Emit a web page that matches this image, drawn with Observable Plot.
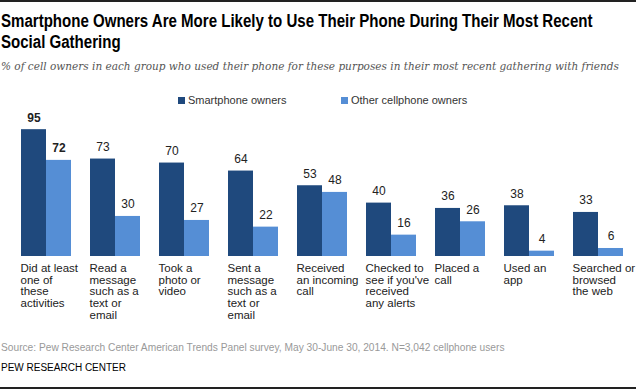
<!DOCTYPE html>
<html>
<head>
<meta charset="utf-8">
<script src="https://cdn.jsdelivr.net/npm/d3@7"></script>
<script src="https://cdn.jsdelivr.net/npm/@observablehq/plot@0.6"></script>
<style>
  html, body { margin: 0; padding: 0; background: #fff; }
  #wrap { position: relative; width: 636px; height: 390px; overflow: hidden; font-family: "Liberation Sans", Arial, sans-serif; }
  .topline { position: absolute; left: 0; top: 0; width: 636px; height: 2px; background: #222; }
  .botline { position: absolute; left: 0; top: 387px; width: 636px; height: 2px; background: #222; }
  .title { position: absolute; left: 1px; top: 11px; white-space: nowrap; font-family: "Liberation Sans", Arial, sans-serif; font-weight: bold; font-size: 17.5px; line-height: 21px; color: #000; transform-origin: 0 0; transform: scaleX(0.86); }
  .subtitle { position: absolute; left: 1px; top: 60px; font-family: "DejaVu Serif", "Liberation Serif", serif; font-style: italic; font-size: 10.5px; color: #555; white-space: nowrap; }
  .legend { position: absolute; top: 94px; left: 0; font-size: 11px; color: #333; }
  .legend .item { position: absolute; top: 0; white-space: nowrap; line-height: 12px; }
  .legend .sw { display: inline-block; width: 7px; height: 7px; margin-right: 3px; vertical-align: 0px; }
  #chart { position: absolute; left: 0; top: 106px; }
  .source { position: absolute; left: 1px; top: 342px; font-size: 10.2px; color: #999; white-space: nowrap; }
  .pew { position: absolute; left: 1px; top: 362px; font-size: 10px; color: #000; white-space: nowrap; }
</style>
</head>
<body>
<div id="wrap">
  <div class="topline"></div>
  <div class="title">Smartphone Owners Are More Likely to Use Their Phone During Their Most Recent<br>Social Gathering</div>
  <div class="subtitle">% of cell owners in each group who used their phone for these purposes in their most recent gathering with friends</div>
  <div class="legend" id="legend"></div>
  <div id="chart"></div>
  <div class="source">Source: Pew Research Center American Trends Panel survey, May 30-June 30, 2014. N=3,042 cellphone users</div>
  <div class="pew">PEW RESEARCH CENTER</div>
  <div class="botline"></div>
</div>
<script>
const categories = [
  "Did at least\none of\nthese\nactivities",
  "Read a\nmessage\nsuch as a\ntext or\nemail",
  "Took a\nphoto or\nvideo",
  "Sent a\nmessage\nsuch as a\ntext or\nemail",
  "Received\nan incoming\ncall",
  "Checked to\nsee if you've\nreceived\nany alerts",
  "Placed a\ncall",
  "Used an\napp",
  "Searched or\nbrowsed\nthe web"
];
const series = ["Smartphone owners", "Other cellphone owners"];
const smartphone = [95, 73, 70, 64, 53, 40, 36, 38, 33];
const other = [72, 30, 27, 22, 48, 16, 26, 4, 6];
const colors = ["#1f497d", "#558ed5"];

const data = [];
categories.forEach((c, i) => {
  data.push({cat: c, series: series[0], value: smartphone[i], idx: i});
  data.push({cat: c, series: series[1], value: other[i], idx: i});
});

// legend
const legend = document.getElementById("legend");
const legendX = [178, 341];
series.forEach((s, i) => {
  const it = document.createElement("div");
  it.className = "item";
  it.style.left = legendX[i] + "px";
  it.innerHTML = `<span class="sw" style="background:${colors[i]}"></span>${s}`;
  legend.appendChild(it);
});

const chart = Plot.plot({
  width: 636,
  height: 230,
  marginTop: 16.5,
  marginBottom: 80,
  marginLeft: 19,
  marginRight: 12,
  style: {fontFamily: "'Liberation Sans', Arial, sans-serif", fontSize: "11.5px", color: "#222", background: "transparent"},
  fx: {domain: categories, paddingInner: 0.264, paddingOuter: 0, axis: null, label: null},
  x: {domain: series, padding: 0, axis: null},
  y: {domain: [0, 100], axis: null},
  color: {domain: series, range: colors},
  marks: [
    Plot.barY(data, {fx: "cat", x: "series", y: "value", fill: "series"}),
    Plot.text(data, {filter: d => d.idx === 0, fx: "cat", x: "series", y: "value", text: "value", dy: -8, lineAnchor: "bottom", fontWeight: "bold", fontSize: 12, fill: "#222"}),
    Plot.text(data, {filter: d => d.idx !== 0, fx: "cat", x: "series", y: "value", text: "value", dy: -8, lineAnchor: "bottom", fontSize: 12, fill: "#222"}),
    Plot.text(categories, {fx: d => d, text: d => d, frameAnchor: "bottom-left", textAnchor: "start", lineAnchor: "top", dy: 7, lineHeight: 1.02, fill: "#222", fontSize: 11.5})
  ]
});
document.getElementById("chart").appendChild(chart);
</script>
</body>
</html>
